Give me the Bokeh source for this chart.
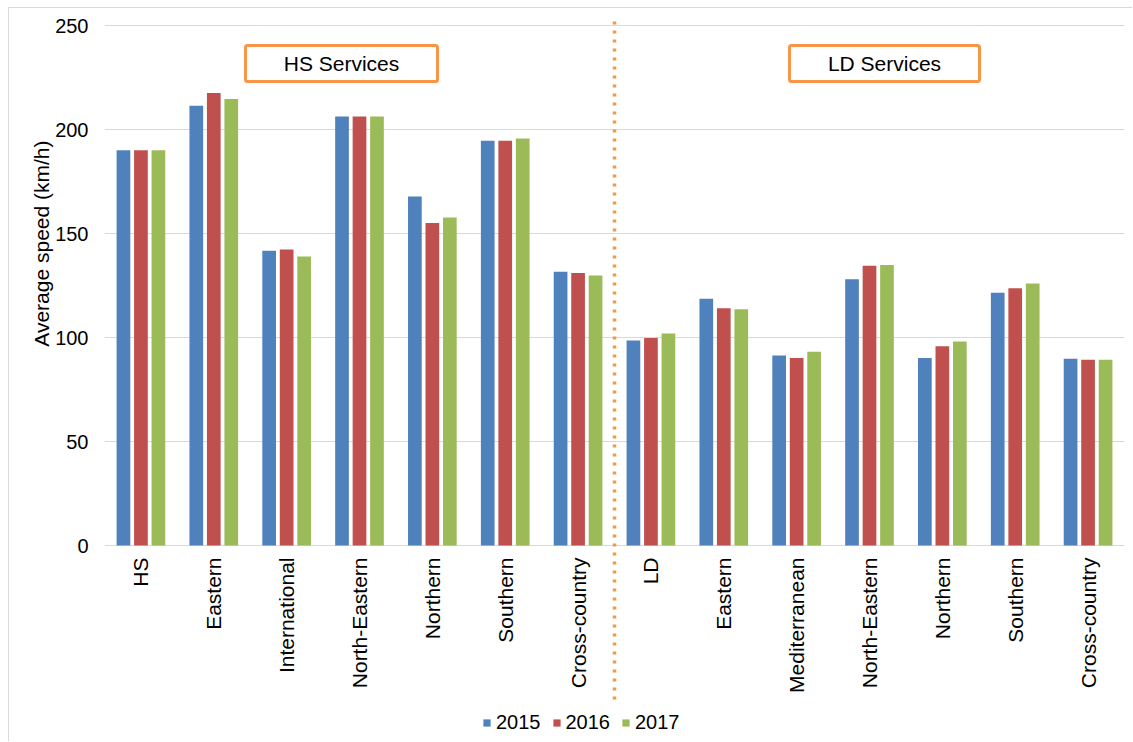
import math
from bokeh.plotting import figure
from bokeh.models import (ColumnDataSource, Range1d, FixedTicker, Legend, LegendItem,
                          Label, BoxAnnotation, Title)
from bokeh.core.properties import value
from bokeh.transform import dodge
from bokeh.embed import file_html
from bokeh.resources import INLINE

# ---------------- data ----------------
categories = ["HS", "Eastern", "International", "North-Eastern", "Northern", "Southern",
              "Cross-country", "LD", "Eastern", "Mediterranean", "North-Eastern", "Northern",
              "Southern", "Cross-country"]
years = ["2015", "2016", "2017"]
speed_2015 = [190.0, 211.4, 141.7, 206.2, 167.8, 194.6, 131.6, 98.6, 118.6, 91.3, 128.0, 90.2, 121.5, 89.8]
speed_2016 = [190.0, 217.5, 142.3, 206.2, 155.1, 194.6, 131.0, 99.7, 114.1, 90.2, 134.5, 95.8, 123.7, 89.3]
speed_2017 = [190.0, 214.7, 138.9, 206.2, 157.7, 195.7, 129.8, 101.9, 113.6, 93.1, 134.9, 98.1, 126.0, 89.3]
y_ticks = [0, 50, 100, 150, 200, 250]
group_labels = ["HS Services", "LD Services"]
y_title = "Average speed (km/h)"
n_hs = 7  # number of HS-service categories (divider after them)

# ---------------- layout (page pixels) ----------------
PAGE_W, PAGE_H = 1133, 742
OX, OY = 9, 8                     # chart border offset (margin + 1px border)
W, H = PAGE_W - OX, PAGE_H - OY   # canvas size
FL, FR = 104, 1124                # plot-area left/right
Y0_PX, Y250_PX = 545, 25          # pixel rows of 0 and 250
NCAT = len(categories)
YMAX = 250
FONT = "Liberation Sans"
ORANGE = "#F79646"
GRID = "#D9D9D9"
colors = ["#4F81BD", "#C0504D", "#9BBB59"]
offsets = [-0.24, 0.0, 0.24]


def sx2x(sx):
    return (sx - FL) / (FR - FL) * NCAT


def sy2y(sy):
    return (Y0_PX - sy) / (Y0_PX - Y250_PX) * YMAX


xs = [i + 0.5 for i in range(NCAT)]
src = ColumnDataSource(data={"x": xs, "cat": categories,
                             "2015": speed_2015, "2016": speed_2016, "2017": speed_2017})

# the plot frame spans the full canvas height so that the category labels, divider
# and legend below the zero line can be drawn in data space
p = figure(width=W, height=H, x_range=Range1d(0, NCAT),
           y_range=Range1d(sy2y(PAGE_H), sy2y(OY)),
           output_backend="svg", toolbar_location=None,
           min_border_left=FL - OX, min_border_right=PAGE_W - FR, min_border_top=0,
           min_border_bottom=0)
p.styles = {"margin-left": "8px", "margin-top": "7px",
            "border-left": "1px solid #D9D9D9", "border-top": "1px solid #D9D9D9"}
p.outline_line_color = None
p.background_fill_color = "white"
p.border_fill_color = "white"
p.xaxis.visible = False

renderers = []
for yr, col, off in zip(years, colors, offsets):
    r = p.vbar(x=dodge("x", off, range=p.x_range), top=yr, width=0.188, source=src,
               fill_color=col, line_color=None)
    renderers.append(r)

# category labels under the zero line
p.text(x="x", y=0, text="cat", source=src, angle=math.pi / 2, text_align="right",
       text_baseline="middle", y_offset=12, text_font=value(FONT),
       text_font_size=value("21px"), text_color="black")

# y axis
ya = p.yaxis[0]
ya.ticker = FixedTicker(ticks=y_ticks)
ya.axis_line_color = None
ya.major_tick_line_color = None
ya.minor_tick_line_color = None
ya.major_tick_out = 0
ya.major_tick_in = 0
ya.minor_tick_out = 0
ya.minor_tick_in = 0
ya.major_label_standoff = 16
ya.major_label_text_font = FONT
ya.major_label_text_font_size = "20px"
ya.major_label_text_color = "black"

p.xgrid.grid_line_color = None
p.ygrid.grid_line_color = GRID
p.ygrid.grid_line_width = 1
p.ygrid.ticker = FixedTicker(ticks=y_ticks)

# y-axis title (placed toward the top like the reference)
p.add_layout(Title(text=y_title, align="right", offset=132, text_font=FONT,
                   text_font_size="21px", text_font_style="normal", text_color="black",
                   standoff=0), "left")

# group boxes
boxes = [(245, 437), (789, 979)]
for (l, r_), txt in zip(boxes, group_labels):
    p.add_layout(BoxAnnotation(left=sx2x(l), right=sx2x(r_), top=sy2y(45), bottom=sy2y(81),
                               fill_color="white", fill_alpha=1.0, line_color=ORANGE,
                               line_width=3, line_alpha=1.0, border_radius=2))
    p.add_layout(Label(x=sx2x((l + r_) / 2), y=sy2y(63), text=txt, text_align="center",
                       text_baseline="middle", text_font=FONT, text_font_size="21px",
                       text_color="black"))

# dotted divider between HS and LD services
p.segment(x0=[n_hs], x1=[n_hs], y0=[sy2y(21)], y1=[sy2y(702)], line_color=ORANGE,
          line_width=3.5, line_dash="3 6")

# legend at the bottom
legend = Legend(items=[LegendItem(label=yr, renderers=[r]) for yr, r in zip(years, renderers)],
                orientation="horizontal", location=(482 - FL, 8),
                glyph_width=9, glyph_height=9, label_standoff=5, spacing=11, padding=0,
                margin=0, border_line_color=None, background_fill_alpha=0,
                label_text_font=FONT, label_text_font_size="20px", label_text_color="black")
p.add_layout(legend)

open("out.html", "w").write(file_html(p, INLINE))
